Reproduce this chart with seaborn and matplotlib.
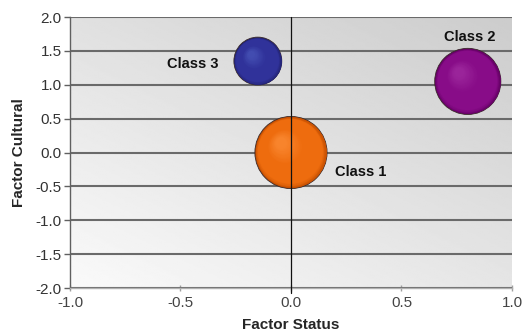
import numpy as np
import pandas as pd
import matplotlib
matplotlib.use("Agg")
import matplotlib.pyplot as plt
import matplotlib.transforms as mtransforms
from matplotlib.colors import LinearSegmentedColormap
import seaborn as sns

# Class positions on the two factors and bubble weights
classes = ["Class 1", "Class 2", "Class 3"]
factor_status = [0.00, 0.80, -0.15]
factor_cultural = [0.00, 1.05, 1.35]
bubble_weight = [100, 84, 44]

# Shading colours for each sphere: rim, body, highlight
rim_colors = ["#c04c00", "#620062", "#222270"]
body_colors = ["#ee6c0e", "#880c88", "#30329a"]
light_colors = ["#f8842c", "#9a249a", "#424cb0"]

x_ticks = [-1.0, -0.5, 0.0, 0.5, 1.0]
y_ticks = [-2.0, -1.5, -1.0, -0.5, 0.0, 0.5, 1.0, 1.5, 2.0]

sns.set_style("white")
plt.rcParams["font.family"] = ["Liberation Sans", "DejaVu Sans"]

df = pd.DataFrame({"cls": classes, "status": factor_status,
                   "cultural": factor_cultural, "weight": bubble_weight})

fig = plt.figure(figsize=(5.27, 3.34), dpi=100)
ax = fig.add_axes([0.1328, 0.1377, 0.8387, 0.8113])

# Gray gradient in the plot area: light at lower left, darker to the upper right
gx, gy = np.meshgrid(np.linspace(0, 1, 200), np.linspace(0, 1, 200))
shade = 0.98 - 0.08 * gx - 0.10 * gy
ax.imshow(shade, cmap="gray", vmin=0, vmax=1, origin="lower", aspect="auto",
          extent=[-1, 1, -2, 2], zorder=0, interpolation="bilinear")

# Area (pt^2) per unit of bubble weight
area_per_weight = 27.0
size_map = {w: w * area_per_weight for w in bubble_weight}

sns.scatterplot(data=df, x="status", y="cultural", hue="cls",
                palette=dict(zip(classes, rim_colors)),
                size="weight", sizes=size_map, legend=False,
                edgecolor="#3a2a2a", linewidth=0.6, ax=ax, zorder=3)

# Layered discs to give each bubble a soft spherical look
n_layers = 70
for xi, yi, w, rc, bc, lc in zip(factor_status, factor_cultural, bubble_weight,
                                 rim_colors, body_colors, light_colors):
    cmap = LinearSegmentedColormap.from_list(
        "sphere", [(0.0, rc), (0.12, bc), (0.6, bc), (1.0, lc)])
    s_full = w * area_per_weight
    r_pt = np.sqrt(s_full) / 2
    for k in range(n_layers):
        f = 0.98 - 0.83 * k / (n_layers - 1)
        t = (1 - f) / 0.85
        dx = -0.28 * r_pt * t
        dy = 0.28 * r_pt * t
        off = mtransforms.ScaledTranslation(dx / 72, dy / 72, fig.dpi_scale_trans)
        ax.scatter([xi], [yi], s=s_full * f * f, color=cmap(t),
                   linewidths=0, transform=ax.transData + off, zorder=4)

# Vertical reference line at zero status
ax.axvline(0, color="#111111", lw=0.9, zorder=6, ymin=-0.02, clip_on=False)

ax.set_xlim(-1, 1)
ax.set_ylim(-2, 2)
ax.set_xticks(x_ticks)
ax.set_yticks(y_ticks)
ax.set_xticklabels([f"{v:.1f}" for v in x_ticks])
ax.set_yticklabels([f"{v:.1f}" for v in y_ticks])

ax.set_axisbelow(True)
ax.yaxis.grid(True, color="#6a6a6a", lw=1.5, zorder=1)
ax.xaxis.grid(False)

for side in ["top", "right"]:
    ax.spines[side].set_visible(False)
ax.spines["left"].set_color("#606060")
ax.spines["left"].set_linewidth(1.0)
ax.spines["bottom"].set_color("#b0b0b0")
ax.spines["bottom"].set_linewidth(1.0)

ax.tick_params(axis="y", direction="out", length=4, width=1, color="#606060",
               labelsize=11, labelcolor="#333333", pad=2, left=True)
ax.tick_params(axis="x", direction="inout", length=5, width=1, color="#a0a0a0",
               labelsize=11, labelcolor="#444444", pad=3, bottom=True)

ax.set_xlabel("Factor Status", fontsize=11, fontweight="bold", labelpad=6)
ax.set_ylabel("Factor Cultural", fontsize=11, fontweight="bold", labelpad=7)

# Class labels beside their bubbles
label_offsets = {"Class 1": (50, -14), "Class 2": (1.5, 32), "Class 3": (-47, -2)}
for name, xi, yi in zip(classes, factor_status, factor_cultural):
    ax.annotate(name, (xi, yi), xytext=label_offsets[name],
                textcoords="offset points", ha="center", va="center",
                fontsize=10.5, fontweight="bold", color="#111111", zorder=7)

fig.savefig("out.png", dpi=100)
